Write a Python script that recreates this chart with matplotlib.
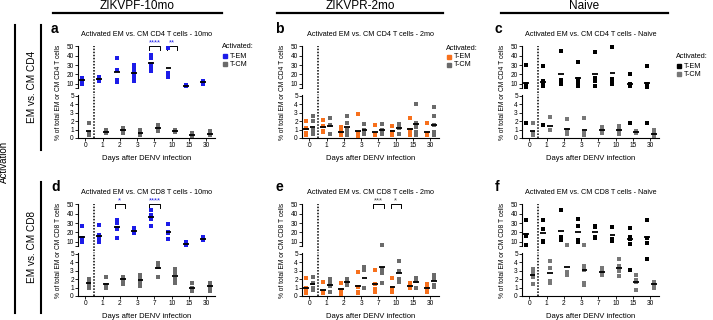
import numpy as np
import matplotlib.pyplot as plt
from matplotlib.lines import Line2D

plt.rcParams['font.family'] = ['Liberation Sans', 'DejaVu Sans']

# Tage nach DENV-Infektion
days = ['0', '1', '2', '3', '7', '10', '15', '30']

# a: CD4, ZIKVPF-10mo
a_em = [[16, 15, 13, 10], [17, 15, 13], [38, 25, 14, 12], [30, 28, 24, 20, 16, 13],
        [41, 38, 31, 27, 23], [48, 21, 19, 17], [8, 7, 7.5], [13, 11, 10]]
a_cm = [[1.8, 0.6, 0.3, 0.6], [0.9, 0.7, 0.6], [1.2, 0.9, 0.6], [0.9, 0.6, 0.4],
        [1.5, 1.3, 1.1, 0.8], [0.9, 0.8, 0.7], [0.6, 0.4, 0.2], [0.8, 0.5, 0.3]]
# b: CD4, ZIKVPR-2mo
b_em = [[2.0, 1.2, 0.6, 0.3], [2.1, 1.4, 0.8, 0.7], [1.3, 0.8, 0.5, 0.3], [2.9, 0.6, 0.4, 0.2, 0.3],
        [1.5, 0.5, 0.3, 0.5], [1.4, 0.7, 0.3, 0.7], [2.4, 0.9, 0.3, 0.7], [1.75, 0.5, 0.3, 0.4]]
b_cm = [[2.6, 2.0, 1.0, 0.5, 0.6], [2.4, 1.5, 0.5], [2.6, 1.8, 0.9, 0.6, 0.4], [1.7, 0.9, 0.5, 0.9],
        [1.7, 1.0, 0.5, 0.8], [1.7, 1.2, 0.5], [4.0, 1.8, 1.3, 0.7, 0.3], [3.7, 2.6, 1.5, 0.7, 0.3, 0.5]]
# c: CD4, Naive
c_em = [[30, 10, 7, 6, 1.8], [29, 13, 10, 7, 1.5], [45, 14, 12, 9], [33, 15, 13, 11, 7],
        [44, 16, 13, 7], [49, 15, 11, 9], [20, 9, 8, 7, 1.8], [29, 9, 7, 6, 1.8]]
c_cm = [[1.8, 0.6, 0.5, 0.3], [2.5, 0.9, 1.0], [2.2, 0.9, 0.5, 0.7], [2.4, 0.6, 0.3, 0.3],
        [1.3, 0.9, 0.6, 1.1], [1.4, 0.9, 0.5], [0.8, 0.6, 0.7], [0.9, 0.5, 0.2, 0.4]]
# d: CD8, ZIKVPF-10mo
d_em = [[27, 14, 11, 10, 12], [28, 17, 14, 12, 10], [33, 30, 25, 24, 14], [25, 22, 21, 19],
        [44, 39, 36, 34, 27], [29, 20, 19, 13], [9, 7, 6], [15, 12, 11.5]]
d_cm = [[2.0, 1.8, 1.4, 1.0], [2.3, 1.3, 1.0, 0.9], [2.3, 2.0, 1.9, 1.4, 2.2], [2.5, 2.0, 1.7, 1.2],
        [3.9, 3.6, 3.4, 2.2], [3.2, 2.7, 2.0, 1.5], [1.5, 0.9, 0.6], [1.5, 1.1, 0.6, 1.4]]
# e: CD8, ZIKVPR-2mo
e_em = [[2.1, 1.0, 0.5, 0.3], [1.7, 0.5, 0.3, 0.4], [1.5, 0.7, 0.2], [2.9, 1.1, 0.5, 0.4, 1.1],
        [3.1, 1.4, 0.5, 0.8], [2.1, 0.8, 0.5, 1.0], [1.6, 1.2, 0.9], [1.4, 0.9, 0.5]]
e_cm = [[2.3, 1.5, 1.0, 0.7], [2.0, 1.5, 1.2, 0.5], [2.0, 1.8, 1.3], [3.4, 3.1, 0.9, 1.0],
        [6.5, 3.2, 2.7, 1.5], [4.2, 3.0, 1.7, 2.0], [2.1, 1.8, 0.9, 1.9], [2.5, 2.0, 1.1, 1.3]]
# f: CD8, Naive
f_em = [[33, 17, 16, 6], [33, 24, 11, 10], [44, 15, 13, 12], [34, 27, 12, 10],
        [27, 26, 15, 14], [26, 13, 11], [25, 15, 13, 7, 3.1], [33, 14, 8, 4.4]]
f_cm = [[3.2, 2.5, 2.2, 1.4, 3.0], [4.1, 3.3, 1.8, 1.5], [6.5, 2.9, 2.6, 2.5, 2.8], [6, 3.5, 3.1, 1.6, 1.3],
        [3.3, 2.9, 2.5, 2.6], [4.4, 3.5, 3.0, 2.4], [2.5, 1.9, 1.7, 0.7], [1.7, 1.5, 1.4, 0.9]]

W, H = 713, 320
blau = '#1c1ce8'
orange = '#f7701c'
grau = '#6a6a6a'
schwarz = '#000000'

fig = plt.figure(figsize=(W / 100, H / 100), dpi=100)


def box(l, t, w, h):
    return [l / W, 1 - (t + h) / H, w / W, h / H]


def fline(x1, y1, x2, y2, lw=1.5):
    fig.add_artist(Line2D([x1 / W, x2 / W], [1 - y1 / H, 1 - y2 / H],
                          transform=fig.transFigure, color='k', lw=lw))


def panel(left, top, em, cm, col_em, col_cm, titel, cd, buchst, leg=None, sterne=()):
    w = 137
    oben = fig.add_axes(box(left, top, w, 42))
    unten = fig.add_axes(box(left, top + 49, w, 43))
    oben.set_ylim(5.2, 50.5)
    unten.set_ylim(0, 5.1)
    for ax in (oben, unten):
        ax.set_xlim(-0.42, 7.5)
        for s in ('top', 'right'):
            ax.spines[s].set_visible(False)
        ax.spines['left'].set_linewidth(0.8)
        ax.spines['bottom'].set_linewidth(0.8)
        ax.tick_params(labelsize=4.7, length=2, width=0.6, pad=1)
    oben.spines['bottom'].set_visible(False)
    oben.set_xticks([])
    oben.set_yticks([5.2, 10, 20, 30, 40, 50], ['', '10', '20', '30', '40', '50'])
    unten.set_yticks(range(6))
    unten.set_xticks(range(len(days)), days)

    for gruppen, dx, farbe in ((em, -0.19, col_em), (cm, 0.19, col_cm)):
        for i, werte in enumerate(gruppen):
            werte = np.array(werte, dtype=float)
            x = np.full(len(werte), i + dx)
            hoch = werte > 5.15
            oben.scatter(x[hoch], werte[hoch], s=11, marker='s', color=farbe, lw=0, zorder=3, clip_on=False)
            unten.scatter(x[~hoch], werte[~hoch], s=11, marker='s', color=farbe, lw=0, zorder=3, clip_on=False)
            m = werte.mean()
            ax = oben if m > 5.15 else unten
            ax.plot([i + dx - 0.17, i + dx + 0.17], [m, m], color='k', lw=1.3,
                    solid_capstyle='butt', zorder=4, clip_on=False)

    oben.axvline(0.5, ymin=-0.19, ymax=1, color='k', lw=1.1, ls=(0, (1, 1)), clip_on=False)
    unten.axvline(0.5, ymin=0, ymax=1, color='k', lw=1.1, ls=(0, (1, 1)))

    for i, txt, farbe in sterne:
        oben.plot([i - 0.3, i - 0.3, i + 0.3, i + 0.3], [46.5, 50, 50, 46.5], color='k', lw=0.7, clip_on=False)
        oben.text(i, 50.3, txt, ha='center', va='bottom', fontsize=5.5, color=farbe, clip_on=False)

    fig.text((left + w / 2) / W, 1 - (top - 11) / H, titel, ha='center', va='center', fontsize=5.2)
    fig.text((left - 19) / W, 1 - (top + 46) / H, '% of total EM or CM ' + cd + ' T cells',
             rotation=90, ha='center', va='center', fontsize=4.8)
    fig.text((left + w / 2) / W, 1 - (top + 112) / H, 'Days after DENV infection',
             ha='center', va='center', fontsize=5.5)
    fig.text((left - 27) / W, 1 - (top - 17) / H, buchst, ha='left', va='center', fontsize=10, fontweight='bold')

    if leg is not None:
        lx, ly = leg
        fig.text(lx / W, 1 - ly / H, 'Activated:', ha='left', va='center', fontsize=5.2)
        for k, (lab, farbe) in enumerate((('T-EM', col_em), ('T-CM', col_cm))):
            yy = ly + 9 + 8 * k
            fig.add_artist(Line2D([(lx + 3) / W], [1 - yy / H], transform=fig.transFigure,
                                  marker='s', ms=3.2, color=farbe, lw=0))
            fig.text((lx + 8) / W, 1 - yy / H, lab, ha='left', va='center', fontsize=5.2)


lefts = [78, 302, 522]
panel(lefts[0], 46, a_em, a_cm, blau, grau, 'Activated EM vs. CM CD4 T cells - 10mo', 'CD4', 'a',
      leg=(222, 47), sterne=[(4, '****', blau), (5, '**', blau)])
panel(lefts[1], 46, b_em, b_cm, orange, grau, 'Activated EM vs. CM CD4 T cells - 2mo', 'CD4', 'b',
      leg=(446, 48))
panel(lefts[2], 46, c_em, c_cm, schwarz, '#777777', 'Activated EM vs. CM CD4 T cells - Naive', 'CD4', 'c',
      leg=(676, 57))
panel(lefts[0], 204, d_em, d_cm, blau, grau, 'Activated EM vs. CM CD8 T cells - 10mo', 'CD8', 'd',
      sterne=[(2, '*', blau), (4, '****', blau)])
panel(lefts[1], 204, e_em, e_cm, orange, grau, 'Activated EM vs. CM CD8 T cells - 2mo', 'CD8', 'e',
      sterne=[(4, '***', '#444444'), (5, '*', '#444444')])
panel(lefts[2], 204, f_em, f_cm, schwarz, '#777777', 'Activated EM vs. CM CD8 T cells - Naive', 'CD8', 'f')

# Spaltenköpfe
for (x1, x2), txt in zip([(53, 222), (277, 443), (501, 668)], ['ZIKVPF-10mo', 'ZIKVPR-2mo', 'Naive']):
    fig.text((x1 + x2) / 2 / W, 1 - 9 / H, txt, ha='center', va='baseline', fontsize=8.5)
    fline(x1, 13, x2, 13, lw=1.6)

# linke Beschriftung
fline(15, 25, 15, 313)
fline(41, 25, 41, 150)
fline(41, 182, 41, 313)
fig.text(4 / W, 1 - 162 / H, 'Activation', rotation=90, ha='center', va='center', fontsize=7)
fig.text(32 / W, 1 - 87 / H, 'EM vs. CM CD4', rotation=90, ha='center', va='center', fontsize=7.2)
fig.text(32 / W, 1 - 247 / H, 'EM vs. CM CD8', rotation=90, ha='center', va='center', fontsize=7.2)

fig.savefig('out.png', dpi=100)
